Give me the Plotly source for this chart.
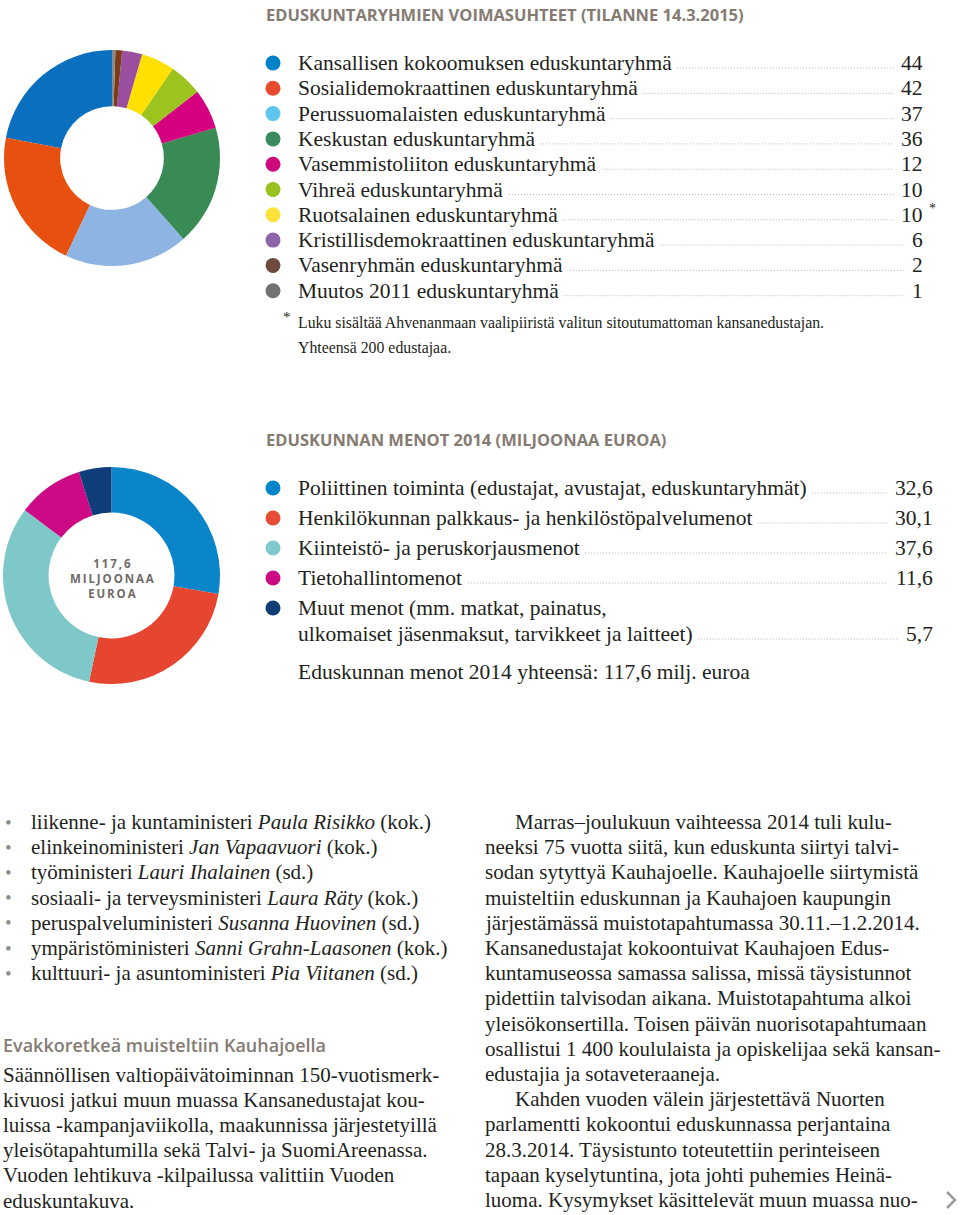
import plotly.graph_objects as go

W, H = 960, 1215

# ---------------- data ----------------
groups = [
    "Kansallisen kokoomuksen eduskuntaryhmä",
    "Sosialidemokraattinen eduskuntaryhmä",
    "Perussuomalaisten eduskuntaryhmä",
    "Keskustan eduskuntaryhmä",
    "Vasemmistoliiton eduskuntaryhmä",
    "Vihreä eduskuntaryhmä",
    "Ruotsalainen eduskuntaryhmä",
    "Kristillisdemokraattinen eduskuntaryhmä",
    "Vasenryhmän eduskuntaryhmä",
    "Muutos 2011 eduskuntaryhmä",
]
seats = [44, 42, 37, 36, 12, 10, 10, 6, 2, 1]
seat_notes = ["", "", "", "", "", "", "*", "", "", ""]
group_slice_colors = ["#0a6fbf", "#e8500f", "#8db4e2", "#3a8a56", "#d4007f",
                      "#9cc31e", "#ffe000", "#9a4e9f", "#7a3b17", "#8a8a8a"]
group_dot_colors = ["#0081c8", "#e64b2d", "#5dc5f0", "#3b8a5e", "#cc0a7e",
                    "#97c11f", "#fde23b", "#8f63a9", "#6f4a3f", "#717171"]

expense_labels = [
    ["Poliittinen toiminta (edustajat, avustajat, eduskuntaryhmät)"],
    ["Henkilökunnan palkkaus- ja henkilöstöpalvelumenot"],
    ["Kiinteistö- ja peruskorjausmenot"],
    ["Tietohallintomenot"],
    ["Muut menot (mm. matkat, painatus,", "ulkomaiset jäsenmaksut, tarvikkeet ja laitteet)"],
]
expense_values = [32.6, 30.1, 37.6, 11.6, 5.7]
expense_total = 117.6
expense_slice_colors = ["#0a85c9", "#e6452f", "#7fc8c9", "#cc0a86", "#0f3d7a"]
expense_dot_colors = ["#0085ca", "#e44c34", "#80c8cb", "#cc0a83", "#0e3e75"]

title1 = "EDUSKUNTARYHMIEN VOIMASUHTEET (TILANNE 14.3.2015)"
title2 = "EDUSKUNNAN MENOT 2014 (MILJOONAA EUROA)"
footnote = "Luku sisältää Ahvenanmaan vaalipiiristä valitun sitoutumattoman kansanedustajan."
total_note = "Yhteensä 200 edustajaa."
total_line = "Eduskunnan menot 2014 yhteensä: 117,6 milj. euroa"

ministers = [
    ("liikenne- ja kuntaministeri ", "Paula Risikko", " (kok.)"),
    ("elinkeinoministeri ", "Jan Vapaavuori", " (kok.)"),
    ("työministeri ", "Lauri Ihalainen", " (sd.)"),
    ("sosiaali- ja terveysministeri ", "Laura Räty", " (kok.)"),
    ("peruspalveluministeri ", "Susanna Huovinen", " (sd.)"),
    ("ympäristöministeri ", "Sanni Grahn-Laasonen", " (kok.)"),
    ("kulttuuri- ja asuntoministeri ", "Pia Viitanen", " (sd.)"),
]
left_heading = "Evakkoretkeä muisteltiin Kauhajoella"
left_par = [
    "Säännöllisen valtiopäivätoiminnan 150-vuotismerk-",
    "kivuosi jatkui muun muassa Kansanedustajat kou-",
    "luissa -kampanjaviikolla, maakunnissa järjestetyillä",
    "yleisötapahtumilla sekä Talvi- ja SuomiAreenassa.",
    "Vuoden lehtikuva -kilpailussa valittiin Vuoden",
    "eduskuntakuva.",
]
right_par = [
    "Marras–joulukuun vaihteessa 2014 tuli kulu-",
    "neeksi 75 vuotta siitä, kun eduskunta siirtyi talvi-",
    "sodan sytyttyä Kauhajoelle. Kauhajoelle siirtymistä",
    "muisteltiin eduskunnan ja Kauhajoen kaupungin",
    "järjestämässä muistotapahtumassa 30.11.–1.2.2014.",
    "Kansanedustajat kokoontuivat Kauhajoen Edus-",
    "kuntamuseossa samassa salissa, missä täysistunnot",
    "pidettiin talvisodan aikana. Muistotapahtuma alkoi",
    "yleisökonsertilla. Toisen päivän nuorisotapahtumaan",
    "osallistui 1 400 koululaista ja opiskelijaa sekä kansan-",
    "edustajia ja sotaveteraaneja.",
    "Kahden vuoden välein järjestettävä Nuorten",
    "parlamentti kokoontui eduskunnassa perjantaina",
    "28.3.2014. Täysistunto toteutettiin perinteiseen",
    "tapaan kyselytuntina, jota johti puhemies Heinä-",
    "luoma. Kysymykset käsittelevät muun muassa nuo-",
]
right_par_indent = [0, 11]

# ---------------- styles ----------------
SERIF = "Liberation Serif"
SANS = "Open Sans"
INK = "#231f20"
HEAD = "#857b73"
LEADER = "#b4b4b4"

# approximate Times/Liberation Serif advance widths (per 1000 em)
_TW = {" ": 250, "(": 333, ")": 333, ",": 250, "-": 333, ".": 250, ":": 278}
for ch in "0123456789":
    _TW[ch] = 500
for ch, w in zip("ABCDEFGHIJKLMNOPQRSTUVWXYZ",
                 [722, 667, 667, 722, 611, 556, 722, 722, 333, 389, 722, 611, 889,
                  722, 722, 556, 722, 667, 556, 611, 722, 722, 944, 722, 722, 611]):
    _TW[ch] = w
for ch, w in zip("abcdefghijklmnopqrstuvwxyz",
                 [444, 500, 444, 500, 444, 333, 500, 500, 278, 278, 500, 278, 778,
                  500, 500, 500, 500, 333, 389, 278, 500, 500, 722, 500, 500, 444]):
    _TW[ch] = w
_TW["ä"] = 444
_TW["ö"] = 500


def text_w(s, size):
    return sum(_TW.get(c, 500) for c in s) * size / 1000.0


def fmt_fi(v):
    return f"{v:.1f}".replace(".", ",")


fig = go.Figure()
annotations = []
shapes = []


def ann(x, y, text, size, color=INK, family=SERIF, xanchor="left", weight="normal"):
    annotations.append(dict(
        x=x, y=y, xref="x", yref="y", text=text, showarrow=False,
        xanchor=xanchor, yanchor="middle", align="left",
        font=dict(family=family, size=size, color=color, weight=weight)))


# ---------------- section 1 ----------------
# plotly puts the first counter-clockwise slice to the right of the start angle,
# so rotate back by the first slice's angle to make it start at 12 o'clock
first_angle = seats[0] / sum(seats) * 360
fig.add_trace(go.Pie(
    values=seats, labels=groups, sort=False, direction="counterclockwise",
    rotation=-first_angle,
    hole=0.48, textinfo="none", hoverinfo="label+value",
    marker=dict(colors=group_slice_colors, line=dict(width=0)),
    domain=dict(x=[4 / W, 220 / W], y=[1 - 266 / H, 1 - 50 / H]),
    showlegend=False))

ann(264, 14, title1, 16.5, HEAD, SANS, weight="bold")

ROW1_TOP, ROW1_STEP = 63, 25.3
LABEL_X, LABEL_SIZE = 296, 21.5
rows1 = [ROW1_TOP + ROW1_STEP * i for i in range(len(groups))]
fig.add_trace(go.Scatter(
    x=[273] * len(groups), y=rows1, mode="markers", hoverinfo="text", text=groups,
    marker=dict(size=15, color=group_dot_colors, line=dict(width=0)), showlegend=False))
for g, v, note, y in zip(groups, seats, seat_notes, rows1):
    ann(LABEL_X, y, g, LABEL_SIZE)
    ann(925, y, str(v), LABEL_SIZE, xanchor="right")
    if note:
        ann(927, y - 6, note, 14, xanchor="left")
    x0 = LABEL_X + text_w(g, LABEL_SIZE) + 7
    x1 = 925 - text_w(str(v), LABEL_SIZE) - 10
    shapes.append(dict(type="line", xref="x", yref="y", x0=x0, x1=x1, y0=y + 5, y1=y + 5,
                       line=dict(color=LEADER, width=1, dash="1px,2px")))

ann(281, 317, "*", 15)
ann(296, 323, footnote, 15.8)
ann(296, 348, total_note, 15.8)

# ---------------- section 2 ----------------
fig.add_trace(go.Pie(
    values=expense_values, labels=[l[0] for l in expense_labels], sort=False,
    direction="clockwise", rotation=0, hole=0.58, textinfo="none", hoverinfo="label+value",
    marker=dict(colors=expense_slice_colors, line=dict(width=0)),
    domain=dict(x=[3 / W, 220 / W], y=[1 - 684 / H, 1 - 467 / H]),
    showlegend=False))


def spaced(s):
    return "\u2009".join(s)


annotations.append(dict(
    x=112, y=578, xref="x", yref="y", showarrow=False, xanchor="center", yanchor="middle",
    align="center",
    text="<br>".join([spaced(fmt_fi(expense_total)), spaced("MILJOONAA"), spaced("EUROA")]),
    font=dict(family=SANS, size=11.5, color="#6f6a66", weight="bold")))

ann(264, 439, title2, 16.5, HEAD, SANS, weight="bold")

ROW2 = [488, 518, 548, 578, 608]
LINE2_STEP = 26
fig.add_trace(go.Scatter(
    x=[273] * len(expense_values), y=ROW2, mode="markers", hoverinfo="text",
    text=[l[0] for l in expense_labels],
    marker=dict(size=15, color=expense_dot_colors, line=dict(width=0)), showlegend=False))
for lines, v, y in zip(expense_labels, expense_values, ROW2):
    for k, line in enumerate(lines):
        ann(LABEL_X, y + k * LINE2_STEP, line, LABEL_SIZE)
    ylast = y + (len(lines) - 1) * LINE2_STEP
    vs = fmt_fi(v)
    ann(935, ylast, vs, LABEL_SIZE, xanchor="right")
    x0 = LABEL_X + text_w(lines[-1], LABEL_SIZE) + 7
    x1 = 935 - text_w(vs, LABEL_SIZE) - 10
    shapes.append(dict(type="line", xref="x", yref="y", x0=x0, x1=x1, y0=ylast + 5, y1=ylast + 5,
                       line=dict(color=LEADER, width=1, dash="1px,2px")))

ann(LABEL_X, 672, total_line, LABEL_SIZE)

# ---------------- text columns ----------------
BODY = 21
for i, (a, b, c) in enumerate(ministers):
    y = 822 + 25.2 * i
    ann(8, y, "•", 19, "#8d8d8d", xanchor="center")
    ann(29, y, f"{a}<i>{b}</i>{c}", BODY)

ann(1, 1045, left_heading, 18, HEAD, SANS, weight=600)
for i, line in enumerate(left_par):
    ann(1, 1075 + 25.1 * i, line, BODY)

for i, line in enumerate(right_par):
    x = 513 if i in right_par_indent else 483
    ann(x, 822 + 25.2 * i, line, BODY)

shapes.append(dict(type="path", xref="x", yref="y",
                   path="M 947 1192 L 955 1200 L 947 1208",
                   line=dict(color="#9c9c9c", width=2.5)))

fig.update_layout(
    width=W, height=H, margin=dict(l=0, r=0, t=0, b=0),
    paper_bgcolor="white", plot_bgcolor="white",
    xaxis=dict(range=[0, W], visible=False, fixedrange=True, domain=[0, 1]),
    yaxis=dict(range=[H, 0], visible=False, fixedrange=True, domain=[0, 1]),
    annotations=annotations, shapes=shapes, showlegend=False,
)

fig.write_html("out.html", config={"displayModeBar": False},
               post_script="document.body.style.margin='0';")
